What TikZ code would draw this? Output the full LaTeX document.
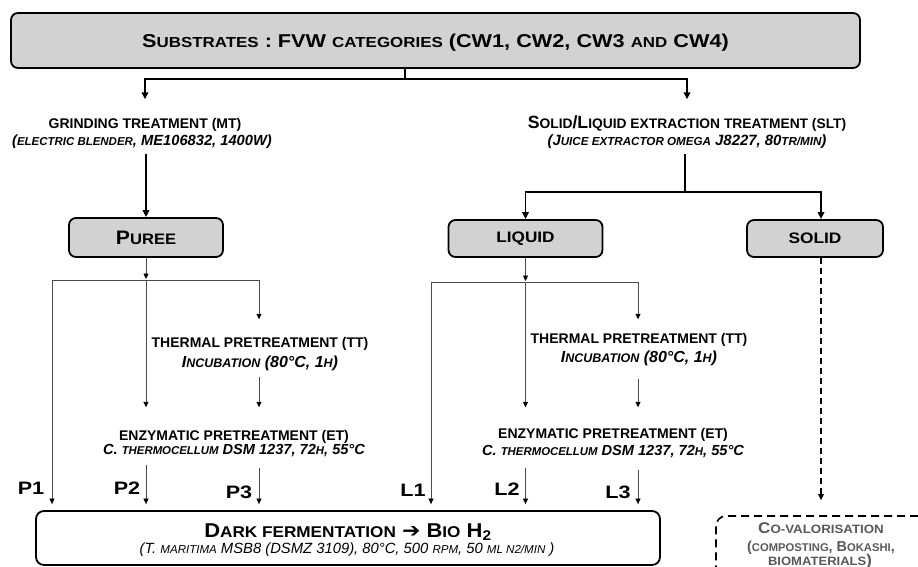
\documentclass[tikz,border=0pt]{standalone}
\usepackage{fontspec}
\usepackage{graphicx}
\setmainfont{Liberation Sans}
\newfontfamily\dejavu{DejaVu Sans}
\usetikzlibrary{arrows.meta,calc}
\makeatletter
\newcommand\sm[1]{{\fontsize{\the\dimexpr0.78\dimexpr\f@size pt\relax\relax}{\f@baselineskip}\selectfont #1}}
\makeatother
\newcommand\fs[1]{\fontsize{#1}{#1}\selectfont}
\newcommand\hs[2]{\scalebox{#1}[1]{#2}}
\tikzset{
  box/.style={draw=black, line width=1.8pt, rounded corners=7pt, fill=gray!35, inner sep=0pt, font=\bfseries},
  txt/.style={inner sep=0pt, text height=0pt, text depth=0pt, anchor=base},
  thickline/.style={line width=1.8pt, draw=black},
  thickarr/.style={line width=1.8pt, draw=black, -{Triangle[length=7pt,width=6.5pt]}},
  thinline/.style={line width=0.7pt, draw=black!70},
  thinarr/.style={line width=0.7pt, draw=black!70, -{Triangle[length=5.5pt,width=5pt,color=black]}},
  dasharr/.style={line width=1.3pt, draw=black, dash pattern=on 6pt off 4pt, -{Triangle[length=6pt,width=5.5pt]}},
  lab/.style={txt, font=\bfseries\fs{18}},
  sub/.style={txt, font=\bfseries\itshape\fs{16}},
  head/.style={txt, font=\bfseries\fs{14}},
  covtxt/.style={txt, text=black!65, font=\bfseries\fs{14}},
}
\begin{document}
\begin{tikzpicture}[x=1pt,y=-1pt]
\useasboundingbox (0,0) rectangle (918,567);
\clip (0,0) rectangle (918,567);
\fill[white] (0,0) rectangle (918,567);

% title
\node[box, minimum width=849pt, minimum height=55pt, text height=13.3pt, text depth=0pt, font=\bfseries\fs{18.6}] (title) at (435.5,40.5)
  {\hs{1.166}{S\sm{UBSTRATES} : FVW \sm{CATEGORIES} (CW1, CW2, CW3 \sm{AND} CW4)}};
\coordinate (tj) at (405,79);

% treatments
\node[head] (mt1) at (145,129) {GRINDING TREATMENT (MT)};
\node[sub, font=\bfseries\itshape\fs{14.7}] (mt2) at (142,146) {(\sm{ELECTRIC BLENDER}, ME106832, 1400W)};
\node[txt, font=\bfseries\fs{17.7}] (slt1) at (687,129) {S\sm{OLID}/L\sm{IQUID EXTRACTION TREATMENT (SLT)}};
\node[sub, font=\bfseries\itshape\fs{14.9}] (slt2) at (687,146) {(J\sm{UICE EXTRACTOR OMEGA} J8227, 80\sm{TR/MIN})};

% fraction boxes
\node[box, minimum width=154pt, minimum height=39pt, text height=13.9pt, font=\bfseries\fs{19.5}] (puree) at (146,237.5) {\hs{1.09}{P\sm{UREE}}};
\node[box, minimum width=154pt, minimum height=37pt, text height=10.9pt, font=\bfseries\fs{19.5}] (liquid) at (525.5,238.5) {\hs{1.13}{\sm{LIQUID}}};
\node[box, minimum width=136pt, minimum height=37pt, text height=10.9pt, font=\bfseries\fs{19.5}] (solid) at (815,238.5) {\hs{1.14}{\sm{SOLID}}};
\coordinate (sj) at (685,192);
\coordinate (sx) at (821,0);

% junction coordinates
\coordinate (cL1) at (52,280);
\coordinate (pj) at (146,280);
\coordinate (cL3) at (259,280);
\coordinate (cR1) at (431,282);
\coordinate (lj) at (525.5,282);
\coordinate (cR3) at (638,282);

% pretreatments left
\node[head] (ttL1) at (260,347) {THERMAL PRETREATMENT (TT)};
\node[sub] (ttL2) at (260,367) {I\sm{NCUBATION} (80°C, 1\sm{H})};
\node[head] (etL1) at (234,440) {ENZYMATIC PRETREATMENT (ET)};
\node[sub, font=\bfseries\itshape\fs{14.6}] (etL2) at (234,454.5) {C. \sm{THERMOCELLUM} DSM 1237, 72\sm{H}, 55°C};
% pretreatments right
\node[head] (ttR1) at (639,343) {THERMAL PRETREATMENT (TT)};
\node[sub] (ttR2) at (639,362.5) {I\sm{NCUBATION} (80°C, 1\sm{H})};
\node[head] (etR1) at (613,438) {ENZYMATIC PRETREATMENT (ET)};
\node[sub, font=\bfseries\itshape\fs{14.6}] (etR2) at (613,455) {C. \sm{THERMOCELLUM} DSM 1237, 72\sm{H}, 55°C};

% dark fermentation
\node[draw=black, line width=1.8pt, rounded corners=8pt, fill=white, minimum width=624pt, minimum height=54pt, inner sep=0pt] (dark) at (348,538) {};
\node[txt, font=\bfseries\fs{20}] (dark1) at (348,537) {\hs{1.1}{D\sm{ARK FERMENTATION} {\dejavu\bfseries ➔} B\sm{IO} H\textsubscript{2}}};
\node[txt, font=\itshape\fs{14.8}] (dark2) at (347,553.5) {(T. \sm{MARITIMA} MSB8 (DSMZ 3109), 80°C, 500 \sm{RPM}, 50 \sm{ML N2/MIN} )};

% co-valorisation
\node[draw=black, line width=1.6pt, dash pattern=on 8pt off 5pt, rounded corners=10pt, minimum width=212pt, minimum height=70pt, inner sep=0pt] (covbox) at (822,551) {};
\node[covtxt, font=\bfseries\fs{15.5}] (cov1) at (821,533) {\hs{1.1}{C\sm{O-VALORISATION}}};
\node[covtxt, font=\bfseries\fs{14.4}] (cov2) at (821,551.5) {(\sm{COMPOSTING}, B\sm{OKASHI},};
\node[covtxt, font=\bfseries\fs{15.5}] (cov3) at (820,565) {\hs{1.08}{\sm{BIOMATERIALS})}};

% labels
\node[lab] (P1) at (31,494) {\hs{1.2}{P1}};
\node[lab] (P2) at (127,494) {\hs{1.2}{P2}};
\node[lab] (P3) at (239,498) {\hs{1.2}{P3}};
\node[lab] (L1) at (413,496) {\hs{1.2}{L1}};
\node[lab] (L2) at (507,495) {\hs{1.2}{L2}};
\node[lab] (L3) at (618,498) {\hs{1.2}{L3}};

% thick connectors
\draw[thickline] (title.south -| tj) -- (tj);
\draw[thickarr, shorten >=29pt] (tj) -| (mt1.north);
\draw[thickarr, shorten >=29pt] (tj) -| (slt1.north);
\draw[thickarr, shorten <=7pt] (puree.north |- mt2.south) -- (puree.north);
\draw[thickline, shorten <=7pt] (sj |- slt2.south) -- (sj);
\draw[thickarr] (sj) -| (liquid.north);
\draw[thickarr] (sj) -| (sx |- solid.north);
\draw[dasharr, shorten >=15pt] (sx |- solid.south) -- (sx |- covbox.north);

% left branch
\draw[thinarr, shorten >=1pt] (puree.south) -- (pj);
\draw[thinline] (cL1) -- (cL3);
\draw[thinarr, shorten >=6pt] (cL1) -- (cL1 |- dark.north);
\draw[thinarr, shorten >=32pt] (pj) -- (pj |- etL1.north);
\draw[thinarr, shorten >=27pt] (cL3) -- (cL3 |- ttL1.north);
\draw[thinarr, shorten <=9pt, shorten >=32pt] (cL3 |- ttL2.south) -- (cL3 |- etL1.north);
\draw[thinarr, shorten <=9.5pt, shorten >=6pt] (pj |- etL2.south) -- (pj |- dark.north);
\draw[thinarr, shorten <=12.5pt, shorten >=6pt] (cL3 |- etL2.south) -- (cL3 |- dark.north);

% right branch
\draw[thinarr, shorten >=1pt] (liquid.south) -- (lj);
\draw[thinline] (cR1) -- (cR3);
\draw[thinarr, shorten >=6pt] (cR1) -- (cR1 |- dark.north);
\draw[thinarr, shorten >=30pt] (lj) -- (lj |- etR1.north);
\draw[thinarr, shorten >=23pt] (cR3) -- (cR3 |- ttR1.north);
\draw[thinarr, shorten <=15.5pt, shorten >=30pt] (cR3 |- ttR2.south) -- (cR3 |- etR1.north);
\draw[thinarr, shorten <=12pt, shorten >=6pt] (lj |- etR2.south) -- (lj |- dark.north);
\draw[thinarr, shorten <=14pt, shorten >=6pt] (cR3 |- etR2.south) -- (cR3 |- dark.north);
\end{tikzpicture}
\end{document}
